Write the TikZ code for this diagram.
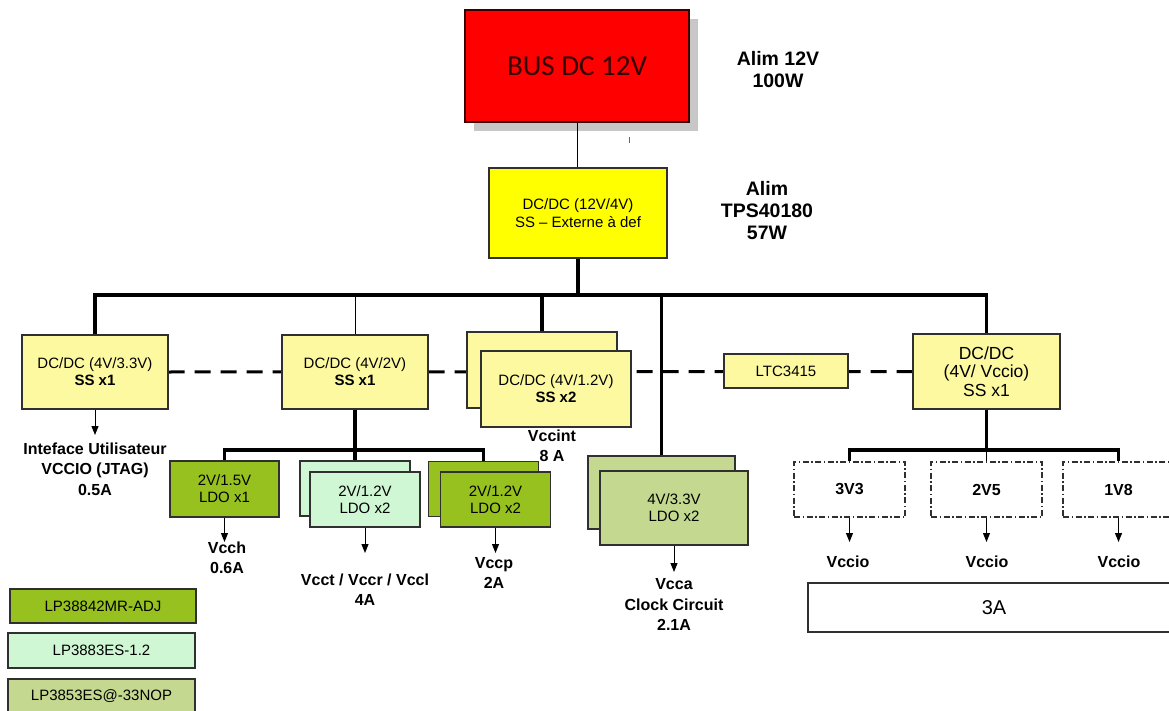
\documentclass[tikz,border=0pt]{standalone}
\usepackage{fontspec}
\setmainfont{Liberation Sans}
\newfontfamily\calfont{Carlito}
\usetikzlibrary{arrows.meta,shadows,backgrounds}
\definecolor{busred}{HTML}{FF0000}
\definecolor{busline}{HTML}{3A0000}
\definecolor{yel}{HTML}{FFFF00}
\definecolor{ly}{HTML}{FDF9A0}
\definecolor{dg}{HTML}{96C11F}
\definecolor{lg}{HTML}{CFF7D3}
\definecolor{og}{HTML}{C4D890}
\definecolor{boxline}{HTML}{303030}
\tikzset{
  box/.style={draw=boxline, line width=1.2pt, inner sep=0pt, align=center,
    font=\fontsize{15}{17}\selectfont},
  lbl/.style={font=\bfseries\fontsize{16}{20.5}\selectfont, align=center, inner sep=0pt},
  toplbl/.style={font=\bfseries\fontsize{19.5}{22}\selectfont, align=center, inner sep=0pt},
  thickl/.style={line width=3.5pt, line cap=butt, line join=miter},
  thinl/.style={line width=1pt},
  arr/.style={line width=1pt, -{Triangle[length=9pt,width=7pt]}},
  dashbox/.style={draw=boxline, line width=1.3pt, dash pattern=on 6pt off 2.5pt on 1.5pt off 2.5pt,
    inner sep=0pt, font=\bfseries\fontsize{16}{18}\selectfont, minimum width=111pt, minimum height=55pt},
}
\begin{document}
\begin{tikzpicture}[x=1pt,y=-1pt]
\useasboundingbox (0,0) rectangle (1169,711);

% top
\node[box, fill=busred, draw=busline, minimum width=224pt, minimum height=112pt,
  drop shadow={shadow xshift=9pt, shadow yshift=-9pt, fill=black!22, opacity=1},
  font=\calfont\fontsize{29}{32}\selectfont, text={rgb,255:red,50;green,0;blue,0}] (bus12) at (577,66) {BUS DC 12V};
\node[toplbl] (alim12) at (778,70) {Alim 12V\\100W};
\node[box, fill=yel, minimum width=178pt, minimum height=90pt,
  font=\fontsize{15}{18}\selectfont] (dc12) at (578,213) {DC/DC (12V/4V)\\SS -- Externe à def};
\node[toplbl] (alimtps) at (767,211) {Alim\\TPS40180\\57W};
\draw[line width=0.8pt, black!60] (629,137) -- (629,143);

% level 1 boxes
\node[box, fill=ly, minimum width=146pt, minimum height=74pt] (b33) at (95,372) {DC/DC (4V/3.3V)\\\textbf{SS x1}};
\node[box, fill=ly, minimum width=146pt, minimum height=74pt] (b2) at (355,372) {DC/DC (4V/2V)\\\textbf{SS x1}};
\node[box, fill=ly, minimum width=150pt, minimum height=76pt] (b12back) at (542,370) {};
\node[box, fill=ly, minimum width=150pt, minimum height=76pt] (b12) at (556,389) {DC/DC (4V/1.2V)\\\textbf{SS x2}};
\node[box, fill=ly, minimum width=124pt, minimum height=34pt] (ltc) at (786,371) {LTC3415};
\node[box, fill=ly, minimum width=147pt, minimum height=75pt,
  font=\fontsize{17.5}{18.5}\selectfont] (vio) at (986.5,371.5) {DC/DC\\(4V/ Vccio)\\SS x1};

\begin{scope}[on background layer]
\draw[line width=3pt, dash pattern=on 16pt off 10pt] (b33.east) -- (vio.west);
\end{scope}

% level 2 boxes
\node[box, fill=dg, minimum width=109pt, minimum height=56pt] (ldo15) at (224.5,489) {2V/1.5V\\LDO x1};
\node[box, fill=lg, minimum width=110pt, minimum height=55pt] (l12aback) at (355,488.5) {};
\node[box, fill=lg, minimum width=110pt, minimum height=55pt] (l12a) at (365,499.5) {2V/1.2V\\LDO x2};
\node[box, fill=dg, minimum width=110pt, minimum height=55pt] (l12bback) at (483.5,489) {};
\node[box, fill=dg, minimum width=110pt, minimum height=55pt] (l12b) at (495.5,499.5) {2V/1.2V\\LDO x2};
\node[box, fill=og, minimum width=147pt, minimum height=73pt] (l33back) at (661.5,492.5) {};
\node[box, fill=og, minimum width=148pt, minimum height=74pt] (l33) at (674,508) {4V/3.3V\\LDO x2};
\node[dashbox] (v33) at (849.5,489.5) {3V3};
\node[dashbox] (v25) at (986.5,489.5) {2V5};
\node[dashbox] (v18) at (1118.5,489.5) {1V8};

% labels
\node[lbl] (lab33) at (95,469) {Inteface Utilisateur\\VCCIO (JTAG)\\0.5A};
\node[lbl] (vcch) at (227,558) {Vcch\\0.6A};
\node[lbl] (vcct) at (365,589.5) {Vcct / Vccr / Vccl\\4A};
\node[lbl] (vccp) at (494,573) {Vccp\\2A};
\node[lbl] (vccint) at (552,446) {Vccint\\8 A};
\node[lbl] (vcca) at (674,604.5) {Vcca\\Clock Circuit\\2.1A};
\node[lbl] (io1) at (848,561.5) {Vccio};
\node[lbl] (io2) at (987,561.5) {Vccio};
\node[lbl] (io3) at (1119,561.5) {Vccio};
\node[box, draw=boxline, fill=white, minimum width=372pt, minimum height=49pt,
  font=\fontsize{20}{22}\selectfont] (a3) at (994,607.5) {3A};

% legend
\node[box, fill=dg, minimum width=186pt, minimum height=34pt] (leg1) at (103,606) {LP38842MR-ADJ};
\node[box, fill=lg, minimum width=187pt, minimum height=35pt] (leg2) at (101.5,650.5) {LP3883ES-1.2};
\node[box, fill=og, minimum width=187pt, minimum height=35pt] (leg3) at (101.5,696.5) {LP3853ES@-33NOP};

% connectors
\coordinate (busY) at (0,295);
\coordinate (bus2Y) at (0,450);
\draw[thinl] (bus12.south) -- (bus12.south |- dc12.north);
\draw[thickl] (dc12.south) -- (dc12.south |- busY);
\draw[thickl] (b33.north) -- (b33.north |- busY) -- (vio.north |- busY) -- (vio.north);
\draw[thinl] (b2.north) -- (b2.north |- busY);
\draw[thickl] (b12back.north) -- (b12back.north |- busY);
\draw[thickl] (l33back.north) -- (l33back.north |- busY);

\draw[thickl] (b2.south) -- (b2.south |- bus2Y);
\draw[thickl] (ldo15.north) -- (ldo15.north |- bus2Y) -- (l12bback.north |- bus2Y) -- (l12bback.north);
\draw[thickl] (l12aback.north) -- (l12aback.north |- bus2Y);

\draw[thickl] (vio.south) -- (vio.south |- bus2Y);
\draw[thickl] (v33.north) -- (v33.north |- bus2Y) -- (v18.north |- bus2Y) -- (v18.north);
\draw[thinl] (v25.north) -- (v25.north |- bus2Y);

% arrows
\coordinate (e33) at (95,435);
\coordinate (ecch) at (224.5,542);
\coordinate (ecct) at (365,553);
\coordinate (eccp) at (495.5,553);
\coordinate (ecca) at (674,572);
\coordinate (eio1) at (849.5,542);
\coordinate (eio2) at (986.5,542);
\coordinate (eio3) at (1118.5,542);
\draw[arr] (b33.south) -- (e33);
\draw[arr] (ldo15.south) -- (ecch);
\draw[arr] (l12a.south) -- (ecct);
\draw[arr] (l12b.south) -- (eccp);
\draw[arr] (l33.south) -- (ecca);
\draw[arr] (v33.south) -- (eio1);
\draw[arr] (v25.south) -- (eio2);
\draw[arr] (v18.south) -- (eio3);
\end{tikzpicture}
\end{document}
